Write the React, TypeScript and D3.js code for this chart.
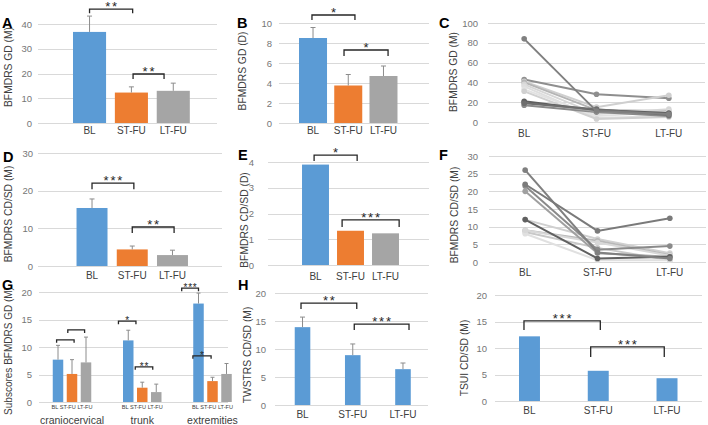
import React from "react";
import * as d3 from "d3";

// ---------------- DATA ----------------
const categories = ["BL", "ST-FU", "LT-FU"];
const seriesColors = ["#5B9BD5", "#ED7D31", "#A5A5A5"];
const singleColor = ["#5B9BD5", "#5B9BD5", "#5B9BD5"];

// A: BFMDRS GD (M)
const gdMonthsMean = [36.8, 12.3, 13.0];
const gdMonthsErr = [6.4, 2.3, 3.1];
const gdMonthsSig = ["**", "**"];

// B: BFMDRS GD (D)
const gdDaysMean = [8.5, 3.75, 4.7];
const gdDaysErr = [1.05, 1.1, 1.0];
const gdDaysSig = ["*", "*"];

// C: individual BFMDRS GD (M)
const gdIndividual = [
  [43, 28, 24],
  [41, 15, 27],
  [40, 12, 11],
  [38, 8, 13],
  [36, 4, 6],
  [33, 6, 10],
  [31, 3, 5],
  [17, 10, 6],
  [20, 11, 8],
  [21, 12, 9],
  [19, 13, 7],
  [84, 11, 8],
];
const gdIndividualShade = ["#8e8e8e", "#cfcfcf", "#b5b5b5", "#d6d6d6", "#dedede", "#e2e2e2", "#d0d0d0", "#8a8a8a", "#a3a3a3", "#5f5f5f", "#6e6e6e", "#808080"];

// D: BFMDRS CD/SD (M)
const cdMonthsMean = [15.4, 4.4, 2.9];
const cdMonthsErr = [2.4, 0.9, 1.3];
const cdMonthsSig = ["***", "**"];

// E: BFMDRS CD/SD (D)
const cdDaysMean = [3.9, 1.33, 1.23];
const cdDaysSig = ["*", "***"];

// F: individual BFMDRS CD/SD (M)
const cdIndividual = [
  [12, 6.5, 2.5],
  [9, 6, 2],
  [8.5, 4, 0.5],
  [8, 0.5, 0.5],
  [9, 5.5, 1.8],
  [20, 2.5, 1.5],
  [21.5, 3.5, 4.5],
  [12, 1, 1.5],
  [26, 2.7, 1.0],
  [22, 8.8, 12.4],
];
const cdIndividualShade = ["#d0d0d0", "#b8b8b8", "#c8c8c8", "#e0e0e0", "#d8d8d8", "#a0a0a0", "#8a8a8a", "#606060", "#808080", "#7a7a7a"];

// G: subscores BFMDRS GD (M)
const subscoreGroups = ["craniocervical", "trunk", "extremities"];
const subscoreBL = [7.7, 11.2, 17.9];
const subscoreBLErr = [2.6, 1.85, 1.9];
const subscoreST = [5.1, 2.6, 3.8];
const subscoreSTErr = [2.6, 1.0, 0.7];
const subscoreLT = [7.2, 1.8, 5.1];
const subscoreLTErr = [4.6, 1.45, 1.9];
const subscoreSig = ["", "", "*", "**", "***", "*"];

// H: TWSTRS CD/SD (M)
const twstrsMean = [13.9, 8.9, 6.4];
const twstrsErr = [1.8, 2.0, 1.1];
const twstrsSig = ["**", "***"];

// I: TSUI CD/SD (M)
const tsuiMean = [12.2, 5.7, 4.3];
const tsuiSig = ["***", "***"];

// ---------------- STYLE ----------------
const FONT = "'Liberation Sans', Arial, Helvetica, sans-serif";
const GRID = "#d9d9d9";
const TICK = "#767676";
const TEXT = "#404040";
const BRACKET = "#262626";
const ERR = "#8c8c8c";

type BracketCfg = { from: number; to: number; at: number; drop: number };

function Title({ text, x, y, size = 10.3 }: { text: string; x: number; y: number; size?: number }) {
  return (
    <text transform={`translate(${x},${y}) rotate(-90)`} textAnchor="middle" dominantBaseline="central"
      fontFamily={FONT} fontSize={size} fill={TEXT}>{text}</text>
  );
}

function Letter({ text, x, y }: { text: string; x: number; y: number }) {
  return <text x={x} y={y} fontFamily={FONT} fontSize={14.5} fontWeight="bold" fill="#000">{text}</text>;
}

function Grid({ y, ticks, grid, tickRight }: any) {
  return (
    <g>
      {ticks.map((t: number) => (
        <g key={t}>
          <line x1={grid[0]} x2={grid[1]} y1={Math.round(y(t)) + 0.5} y2={Math.round(y(t)) + 0.5} stroke={GRID} strokeWidth={1} />
          <text x={tickRight} y={y(t)} textAnchor="end" dominantBaseline="central" fontFamily={FONT} fontSize={9.5} fill={TICK}>{t}</text>
        </g>
      ))}
    </g>
  );
}

function Bracket({ x1, x2, yb, drop, label, size = 13, gap = 2, spacing = 1.8 }: any) {
  return (
    <g>
      <path d={`M${x1},${yb + drop}V${yb}H${x2}V${yb + drop}`} fill="none" stroke={BRACKET} strokeWidth={1.3} />
      {label && (
        <text x={(x1 + x2) / 2 + spacing / 2} y={yb + gap} textAnchor="middle" fontFamily={FONT} fontSize={size} fill={BRACKET} letterSpacing={spacing}>{label}</text>
      )}
    </g>
  );
}

type BarCfg = {
  grid: [number, number]; yPx: [number, number]; yMax: number; tickStep: number;
  band: [number, number]; barFrac: number; tickRight: number; catY: number;
  title: string; titleX: number; titleY: number; letter?: string; letterX?: number; letterY?: number;
  brackets: BracketCfg[];
};

function BarPanel({ cfg, values, errs, sig, colors }: { cfg: BarCfg; values: number[]; errs?: number[]; sig: string[]; colors: string[] }) {
  const y = d3.scaleLinear().domain([0, cfg.yMax]).range(cfg.yPx);
  const x = d3.scaleBand<string>().domain(categories).range(cfg.band)
    .paddingInner(1 - cfg.barFrac).paddingOuter((1 - cfg.barFrac) / 2);
  const cx = (i: number) => (x(categories[0]) as number) + x.bandwidth() / 2 + i * x.step();
  const ticks = d3.range(0, cfg.yMax + cfg.tickStep / 2, cfg.tickStep);
  return (
    <g>
      <Grid y={y} ticks={ticks} grid={cfg.grid} tickRight={cfg.tickRight} />
      {values.map((v, i) => (
        <rect key={i} x={x(categories[i])} y={y(v)} width={x.bandwidth()} height={y(0) - y(v)} fill={colors[i]} />
      ))}
      {errs && values.map((v, i) => (
        <g key={i}>
          <line x1={cx(i)} x2={cx(i)} y1={y(v)} y2={y(v + errs[i])} stroke={ERR} strokeWidth={1} />
          <line x1={cx(i) - 2.5} x2={cx(i) + 2.5} y1={y(v + errs[i])} y2={y(v + errs[i])} stroke={ERR} strokeWidth={1} />
        </g>
      ))}
      {categories.map((c, i) => (
        <text key={c} x={cx(i)} y={cfg.catY} textAnchor="middle" dominantBaseline="central" fontFamily={FONT} fontSize={10} fill={TEXT}>{c}</text>
      ))}
      {cfg.brackets.map((b, i) => (
        <Bracket key={i} x1={cx(b.from)} x2={cx(b.to)} yb={y(b.at)} drop={b.drop} label={sig[i]} />
      ))}
      <Title text={cfg.title} x={cfg.titleX} y={cfg.titleY} />
      {cfg.letter && <Letter text={cfg.letter} x={cfg.letterX!} y={cfg.letterY!} />}
    </g>
  );
}

type LineCfg = {
  grid: [number, number]; yPx: [number, number]; yMax: number; tickStep: number;
  tickRight: number; catY: number; title: string; titleX: number; titleY: number;
  letter: string; letterX: number; letterY: number;
};

function LinePanel({ cfg, series, shades }: { cfg: LineCfg; series: number[][]; shades: string[] }) {
  const y = d3.scaleLinear().domain([0, cfg.yMax]).range(cfg.yPx);
  const x = d3.scalePoint<string>().domain(categories).range(cfg.grid).padding(0.5);
  const ticks = d3.range(0, cfg.yMax + cfg.tickStep / 2, cfg.tickStep);
  const line = d3.line<number>().x((_, i) => x(categories[i]) as number).y((d) => y(d));
  return (
    <g>
      <Grid y={y} ticks={ticks} grid={cfg.grid} tickRight={cfg.tickRight} />
      {series.map((s, k) => (
        <g key={k}>
          <path d={line(s) as string} fill="none" stroke={shades[k]} strokeWidth={2} />
          {s.map((v, i) => (
            <circle key={i} cx={x(categories[i])} cy={y(v)} r={2.8} fill={shades[k]} />
          ))}
        </g>
      ))}
      {categories.map((c) => (
        <text key={c} x={x(c)} y={cfg.catY} textAnchor="middle" dominantBaseline="central" fontFamily={FONT} fontSize={10} fill={TEXT}>{c}</text>
      ))}
      <Title text={cfg.title} x={cfg.titleX} y={cfg.titleY} />
      <Letter text={cfg.letter} x={cfg.letterX} y={cfg.letterY} />
    </g>
  );
}

function SubscorePanel() {
  const y = d3.scaleLinear().domain([0, 20]).range([402, 292]);
  const gx = d3.scalePoint<string>().domain(subscoreGroups).range([72, 212.5]);
  const inner = d3.scaleBand<string>().domain(categories).range([-21, 21]).paddingInner(0.25).paddingOuter(0.125);
  const sets = [subscoreBL, subscoreST, subscoreLT];
  const errs = [subscoreBLErr, subscoreSTErr, subscoreLTErr];
  const ticks = d3.range(0, 20 + 2.5, 5);
  const bw = inner.bandwidth();
  const blCenter = (g: number) => (gx(subscoreGroups[g]) as number) + (inner(categories[0]) as number) + bw / 2;
  const brackets = [
    { g: 0, from: -0.1, to: 1.15, at: 11.3, drop: 3 },
    { g: 0, from: 0.7, to: 1.9, at: 13.1, drop: 3 },
    { g: 1, from: -0.7, to: 0.55, at: 14.7, drop: 3 },
    { g: 1, from: 0.5, to: 1.75, at: 6.4, drop: 3 },
    { g: 2, from: -1.2, to: 0, at: 20.7, drop: 3 },
    { g: 2, from: -0.4, to: 0.9, at: 8.4, drop: 3 },
  ];
  return (
    <g>
      <Grid y={y} ticks={ticks} grid={[39, 228]} tickRight={32} />
      {subscoreGroups.map((g, gi) => (
        <g key={g}>
          {categories.map((c, ci) => {
            const x0 = (gx(g) as number) + (inner(c) as number);
            const v = sets[ci][gi];
            const e = errs[ci][gi];
            const cxp = x0 + bw / 2;
            return (
              <g key={c}>
                <rect x={x0} y={y(v)} width={bw} height={y(0) - y(v)} fill={seriesColors[ci]} />
                <line x1={cxp} x2={cxp} y1={y(v)} y2={y(v + e)} stroke={ERR} strokeWidth={1} />
                <line x1={cxp - 2} x2={cxp + 2} y1={y(v + e)} y2={y(v + e)} stroke={ERR} strokeWidth={1} />
              </g>
            );
          })}
          <text x={gx(g)} y={406.5} textAnchor="middle" dominantBaseline="central" fontFamily={FONT} fontSize={5.6} fill={TEXT}>{categories.join(" ")}</text>
          <text x={gx(g)} y={420} textAnchor="middle" dominantBaseline="central" fontFamily={FONT} fontSize={10.5} fill={TEXT}>{g}</text>
        </g>
      ))}
      {brackets.map((b, i) => {
        const step = inner.step();
        return (
          <Bracket key={i} x1={blCenter(b.g) + b.from * step} x2={blCenter(b.g) + b.to * step} yb={y(b.at)} drop={b.drop} label={subscoreSig[i]} size={10} gap={3} spacing={0.8} />
        );
      })}
      <Title text="Subscores BFMDRS GD (M)" x={8} y={351} size={10} />
      <Letter text="G" x={2} y={290} />
    </g>
  );
}

// ---------------- LAYOUT ----------------
const cfgA: BarCfg = {
  grid: [38, 217], yPx: [123, 24], yMax: 40, tickStep: 10, band: [68.6, 194.2], barFrac: 0.79,
  tickRight: 32, catY: 130, title: "BFMDRS GD (M)", titleX: 8, titleY: 67, letter: "A", letterX: 2, letterY: 28,
  brackets: [{ from: 0, to: 1.03, at: 46, drop: 4 }, { from: 1.04, to: 1.78, at: 19.8, drop: 5 }],
};
const cfgB: BarCfg = {
  grid: [279, 429], yPx: [123, 23], yMax: 10, tickStep: 2, band: [295.4, 401.1], barFrac: 0.795,
  tickRight: 272, catY: 130, title: "BFMDRS GD (D)", titleX: 242, titleY: 71, letter: "B", letterX: 237, letterY: 28,
  brackets: [{ from: -0.03, to: 1.19, at: 10.8, drop: 5 }, { from: 0.88, to: 2.13, at: 7.3, drop: 6 }],
};
const cfgC: LineCfg = {
  grid: [488, 705], yPx: [122, 23], yMax: 100, tickStep: 20, tickRight: 478, catY: 133.5,
  title: "BFMDRS GD (M)", titleX: 453, titleY: 72, letter: "C", letterX: 439, letterY: 28,
};
const cfgD: BarCfg = {
  grid: [38, 222], yPx: [266, 153], yMax: 30, tickStep: 10, band: [71.9, 192.6], barFrac: 0.77,
  tickRight: 33, catY: 275.5, title: "BFMDRS CD/SD (M)", titleX: 8, titleY: 214, letter: "D", letterX: 3, letterY: 162,
  brackets: [{ from: 0, to: 1.04, at: 22, drop: 6 }, { from: 1, to: 2.04, at: 10.35, drop: 6 }],
};
const cfgE: BarCfg = {
  grid: [268, 429], yPx: [265, 162], yMax: 4, tickStep: 1, band: [298, 403], barFrac: 0.77,
  tickRight: 254, catY: 276, title: "BFMDRS CD/SD (D)", titleX: 244, titleY: 220, letter: "E", letterX: 238, letterY: 160,
  brackets: [{ from: -0.04, to: 1.19, at: 4.27, drop: 6 }, { from: 0.76, to: 2.39, at: 1.75, drop: 7 }],
};
const cfgF: LineCfg = {
  grid: [489, 706], yPx: [262, 156], yMax: 30, tickStep: 5, tickRight: 478, catY: 272,
  title: "BFMDRS CD/SD (M)", titleX: 454, titleY: 215, letter: "F", letterX: 439, letterY: 160,
};
const cfgH: BarCfg = {
  grid: [275, 428], yPx: [405, 293], yMax: 20, tickStep: 5, band: [277.4, 428.1], barFrac: 0.31,
  tickRight: 266, catY: 414, title: "TWSTRS CD/SD (M)", titleX: 247, titleY: 355, letter: "H", letterX: 238, letterY: 290,
  brackets: [{ from: -0.03, to: 1.08, at: 18.2, drop: 6 }, { from: 1.03, to: 2.12, at: 14.45, drop: 6 }],
};
const cfgI: BarCfg = {
  grid: [495, 702], yPx: [401, 295], yMax: 20, tickStep: 5, band: [495.1, 701.4], barFrac: 0.305,
  tickRight: 487, catY: 410, title: "TSUI CD/SD (M)", titleX: 464, titleY: 358,
  brackets: [{ from: -0.08, to: 1.03, at: 15.1, drop: 9 }, { from: 0.89, to: 1.96, at: 10.2, drop: 10 }],
};

export default function App() {
  return (
    <svg width={708} height={425} viewBox="0 0 708 425"
      style={{ position: "absolute", left: 0, top: 0, background: "#fff", display: "block" }}>
      <rect width={708} height={425} fill="#fff" />
      <BarPanel cfg={cfgA} values={gdMonthsMean} errs={gdMonthsErr} sig={gdMonthsSig} colors={seriesColors} />
      <BarPanel cfg={cfgB} values={gdDaysMean} errs={gdDaysErr} sig={gdDaysSig} colors={seriesColors} />
      <LinePanel cfg={cfgC} series={gdIndividual} shades={gdIndividualShade} />
      <BarPanel cfg={cfgD} values={cdMonthsMean} errs={cdMonthsErr} sig={cdMonthsSig} colors={seriesColors} />
      <BarPanel cfg={cfgE} values={cdDaysMean} sig={cdDaysSig} colors={seriesColors} />
      <LinePanel cfg={cfgF} series={cdIndividual} shades={cdIndividualShade} />
      <SubscorePanel />
      <BarPanel cfg={cfgH} values={twstrsMean} errs={twstrsErr} sig={twstrsSig} colors={singleColor} />
      <BarPanel cfg={cfgI} values={tsuiMean} sig={tsuiSig} colors={singleColor} />
    </svg>
  );
}
